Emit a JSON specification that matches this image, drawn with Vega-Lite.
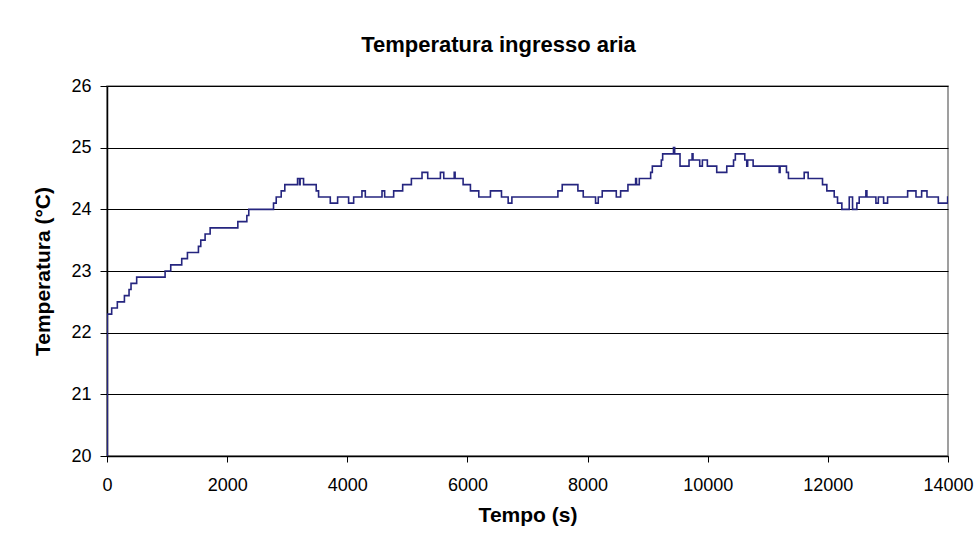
{
  "$schema": "https://vega.github.io/schema/vega-lite/v6.json",
  "autosize": {"type": "none"},
  "padding": {"left": 107, "top": 86, "right": 31, "bottom": 78},
  "width": 841,
  "height": 370,
  "background": "white",
  "title": {
    "text": "Temperatura ingresso aria",
    "font": "Liberation Sans",
    "fontSize": 22,
    "fontWeight": "bold",
    "color": "#000000",
    "anchor": "middle",
    "frame": "group",
    "baseline": "alphabetic",
    "offset": 3,
    "dx": -29
  },
  "config": {
    "font": "Liberation Sans",
    "view": {"stroke": "#808080", "strokeWidth": 1.5},
    "axis": {
      "domainColor": "#000000",
      "tickColor": "#000000",
      "labelColor": "#000000",
      "titleColor": "#000000",
      "labelFont": "Liberation Sans",
      "titleFont": "Liberation Sans",
      "labelFontSize": 18,
      "titleFontSize": 21,
      "titleFontWeight": "bold",
      "labelFontWeight": "normal"
    }
  },
  "data": {
    "values": [
      {"t": 0, "v": 20.0}, {"t": 5, "v": 22.3}, {"t": 78, "v": 22.4}, {"t": 172, "v": 22.5},
      {"t": 290, "v": 22.6}, {"t": 367, "v": 22.7}, {"t": 400, "v": 22.8}, {"t": 494, "v": 22.9},
      {"t": 967, "v": 23.0}, {"t": 1061, "v": 23.1}, {"t": 1244, "v": 23.2}, {"t": 1339, "v": 23.3},
      {"t": 1522, "v": 23.4}, {"t": 1561, "v": 23.5}, {"t": 1633, "v": 23.6}, {"t": 1717, "v": 23.7},
      {"t": 2178, "v": 23.8}, {"t": 2328, "v": 23.9}, {"t": 2360, "v": 24.0}, {"t": 2772, "v": 24.1},
      {"t": 2817, "v": 24.2}, {"t": 2900, "v": 24.3}, {"t": 2960, "v": 24.4}, {"t": 3172, "v": 24.5},
      {"t": 3205, "v": 24.4}, {"t": 3215, "v": 24.5}, {"t": 3272, "v": 24.4}, {"t": 3483, "v": 24.3},
      {"t": 3522, "v": 24.2}, {"t": 3717, "v": 24.1}, {"t": 3839, "v": 24.2}, {"t": 4022, "v": 24.1},
      {"t": 4106, "v": 24.2}, {"t": 4244, "v": 24.3}, {"t": 4300, "v": 24.2}, {"t": 4578, "v": 24.3},
      {"t": 4622, "v": 24.2}, {"t": 4772, "v": 24.3}, {"t": 4922, "v": 24.4}, {"t": 5067, "v": 24.5},
      {"t": 5244, "v": 24.6}, {"t": 5339, "v": 24.5}, {"t": 5550, "v": 24.6}, {"t": 5606, "v": 24.5},
      {"t": 5780, "v": 24.6}, {"t": 5795, "v": 24.5}, {"t": 5928, "v": 24.4}, {"t": 6050, "v": 24.3},
      {"t": 6189, "v": 24.2}, {"t": 6383, "v": 24.3}, {"t": 6567, "v": 24.2}, {"t": 6678, "v": 24.1},
      {"t": 6740, "v": 24.2}, {"t": 7506, "v": 24.3}, {"t": 7578, "v": 24.4}, {"t": 7839, "v": 24.3},
      {"t": 7928, "v": 24.2}, {"t": 8133, "v": 24.1}, {"t": 8178, "v": 24.2}, {"t": 8244, "v": 24.3},
      {"t": 8478, "v": 24.2}, {"t": 8550, "v": 24.3}, {"t": 8672, "v": 24.4}, {"t": 8800, "v": 24.5},
      {"t": 8815, "v": 24.4}, {"t": 8861, "v": 24.5}, {"t": 9050, "v": 24.6}, {"t": 9078, "v": 24.7},
      {"t": 9228, "v": 24.8}, {"t": 9250, "v": 24.9}, {"t": 9430, "v": 25.0}, {"t": 9450, "v": 24.9},
      {"t": 9539, "v": 24.7}, {"t": 9689, "v": 24.8}, {"t": 9740, "v": 24.9}, {"t": 9755, "v": 24.8},
      {"t": 9867, "v": 24.7}, {"t": 9911, "v": 24.8}, {"t": 9994, "v": 24.7}, {"t": 10150, "v": 24.6},
      {"t": 10317, "v": 24.7}, {"t": 10430, "v": 24.8}, {"t": 10460, "v": 24.9}, {"t": 10617, "v": 24.8},
      {"t": 10650, "v": 24.7}, {"t": 10665, "v": 24.8}, {"t": 10756, "v": 24.7}, {"t": 11190, "v": 24.6},
      {"t": 11205, "v": 24.7}, {"t": 11311, "v": 24.6}, {"t": 11344, "v": 24.5}, {"t": 11606, "v": 24.6},
      {"t": 11672, "v": 24.5}, {"t": 11911, "v": 24.4}, {"t": 11983, "v": 24.3}, {"t": 12106, "v": 24.2},
      {"t": 12161, "v": 24.1}, {"t": 12233, "v": 24.0}, {"t": 12356, "v": 24.2}, {"t": 12411, "v": 24.0},
      {"t": 12483, "v": 24.1}, {"t": 12522, "v": 24.2}, {"t": 12633, "v": 24.3}, {"t": 12650, "v": 24.2},
      {"t": 12800, "v": 24.1}, {"t": 12840, "v": 24.2}, {"t": 12928, "v": 24.1}, {"t": 12994, "v": 24.2},
      {"t": 13328, "v": 24.3}, {"t": 13467, "v": 24.2}, {"t": 13561, "v": 24.3}, {"t": 13650, "v": 24.2},
      {"t": 13839, "v": 24.1}, {"t": 13994, "v": 24.2}, {"t": 14000, "v": 24.2}
    ]
  },
  "mark": {"type": "line", "interpolate": "step-after", "color": "#25257F", "strokeWidth": 1.6, "clip": true},
  "encoding": {
    "x": {
      "field": "t",
      "type": "quantitative",
      "title": "Tempo (s)",
      "scale": {"domain": [0, 14000], "nice": false, "zero": false},
      "axis": {
        "values": [0, 2000, 4000, 6000, 8000, 10000, 12000, 14000],
        "format": "d",
        "grid": false,
        "tickSize": 6,
        "labelPadding": 14,
        "titlePadding": 10,
        "labelFlush": false,
        "labelOverlap": false,
        "domainWidth": 1.5
      }
    },
    "y": {
      "field": "v",
      "type": "quantitative",
      "title": "Temperatura (°C)",
      "scale": {"domain": [20, 26], "nice": false, "zero": false},
      "axis": {
        "values": [20, 21, 22, 23, 24, 25, 26],
        "format": "d",
        "grid": true,
        "gridColor": "#000000",
        "gridWidth": 1,
        "gridOpacity": 1,
        "tickSize": 7,
        "labelPadding": 9,
        "titlePadding": 17,
        "labelFlush": false,
        "labelOverlap": false,
        "domainWidth": 1.5
      }
    }
  }
}
